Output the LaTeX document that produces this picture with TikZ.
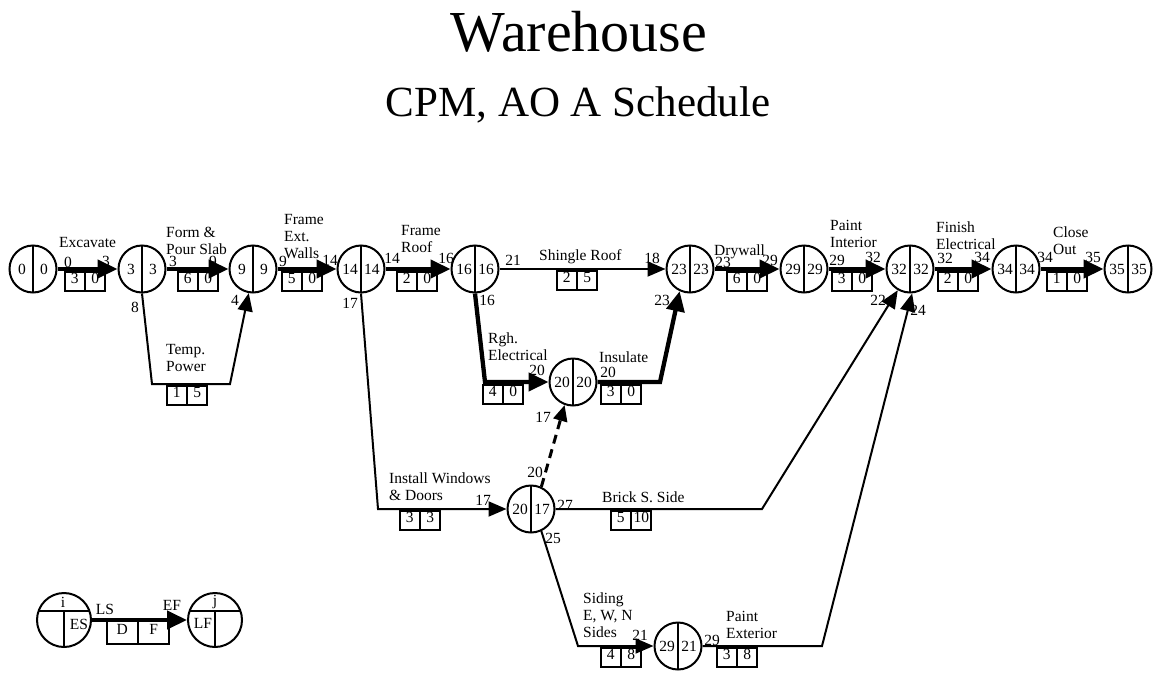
\documentclass[tikz,border=0pt]{standalone}
\usepackage{fontspec}
\setmainfont{Liberation Serif}
\usetikzlibrary{arrows.meta,shapes.multipart}

% early start | late start inside an event circle
\newcommand{\lr}[2]{\makebox[22pt]{#1}\makebox[22pt]{#2}}
% duration | float under an activity
\newcommand{\dur}[2]{\makebox[11pt]{\rule[-6pt]{0pt}{17pt}#1}\nodepart{two}\makebox[11pt]{\rule[-6pt]{0pt}{17pt}#2}}

\begin{document}
\begin{tikzpicture}[
    x=1pt, y=-1pt, font=\fontsize{15.5}{17}\selectfont,
    event/.style={circle, draw, line width=2pt, minimum size=47pt, inner sep=0pt,
      path picture={\draw[line width=2pt] (path picture bounding box.north)
        -- (path picture bounding box.south);}},
    keyevent/.style={circle, draw, line width=2pt, minimum size=54pt, inner sep=0pt,
      path picture={\draw[line width=2pt]
        ([yshift=-18pt]path picture bounding box.north west)
        -- ([yshift=-18pt]path picture bounding box.north east);
        \draw[line width=2pt] ([yshift=-18pt]path picture bounding box.north)
        -- (path picture bounding box.south);}},
    durbox/.style={rectangle split, rectangle split horizontal,
      rectangle split parts=2, draw, line width=1.6pt,
      inner xsep=4pt, inner ysep=1pt, anchor=north},
    crit/.style={line width=4.3pt, -{Triangle[length=20pt,width=18pt]}},
    act/.style={line width=2pt, -{Triangle[length=18pt,width=15pt]}},
    dummy/.style={line width=3pt, dash pattern=on 9pt off 6pt,
      -{Triangle[length=16pt,width=14pt]}},
    actname/.style={anchor=north west, align=left, inner sep=0pt},
    num/.style={inner sep=0pt}]

  \useasboundingbox (0,0) rectangle (1159,672);

  % title
  \node (title) at (579,32) {\fontsize{58}{64}\selectfont Warehouse};
  \node (subtitle) at (578,105) {\fontsize{43}{48}\selectfont CPM, AO A Schedule};

  % events
  \node[event] (n0)  at (33,269)   {\lr{0}{0}};
  \node[event] (n3)  at (142,269)  {\lr{3}{3}};
  \node[event] (n9)  at (253,269)  {\lr{9}{9}};
  \node[event] (n14) at (361,269)  {\lr{14}{14}};
  \node[event] (n16) at (475,269)  {\lr{16}{16}};
  \node[event] (n23) at (690,269)  {\lr{23}{23}};
  \node[event] (n29) at (804,269)  {\lr{29}{29}};
  \node[event] (n32) at (910,269)  {\lr{32}{32}};
  \node[event] (n34) at (1016,269) {\lr{34}{34}};
  \node[event] (n35) at (1128,269) {\lr{35}{35}};
  \node[event] (n20) at (573,382)  {\lr{20}{20}};
  \node[event] (n17) at (531,509)  {\lr{20}{17}};
  \node[event] (n21) at (678,646)  {\lr{29}{21}};

  % bends of the activity arrows
  \coordinate (tp1) at (152,384);
  \coordinate (tp2) at (230,384);
  \coordinate (iw)  at (378,509);
  \coordinate (re)  at (485,382);
  \coordinate (ins) at (660,382);
  \coordinate (bs)  at (762,509);
  \coordinate (sd)  at (578,646);
  \coordinate (pe)  at (822,646);

  % start and finish times at the arrow ends
  \node[num] at (68,262)   {0};
  \node[num] at (106,261)  {3};
  \node[num] at (173,261)  {3};
  \node[num] at (213,261)  {9};
  \node[num] at (135,307)  {8};
  \node[num] at (235,300)  {4};
  \node[num] at (283,261)  {9};
  \node[num] at (330,260)  {14};
  \node[num] at (392,258)  {14};
  \node[num] at (446,258)  {16};
  \node[num] at (350,303)  {17};
  \node[num] at (513,260)  {21};
  \node[num] at (652,258)  {18};
  \node[num] at (487,300)  {16};
  \node[num] at (537,370)  {20};
  \node[num] at (608,372)  {20};
  \node[num] at (662,300)  {23};
  \node[num] at (543,417)  {17};
  \node[num] at (535,472)  {20};
  \node[num] at (483,500)  {17};
  \node[num] at (565,505)  {27};
  \node[num] at (553,538)  {25};
  \node[num] at (878,300)  {22};
  \node[num] at (918,310)  {24};
  \node[num] at (640,635)  {21};
  \node[num] at (712,640)  {29};
  \node[num] at (723,262)  {23};
  \node[num] at (770,260)  {29};
  \node[num] at (837,260)  {29};
  \node[num] at (873,257)  {32};
  \node[num] at (945,258)  {32};
  \node[num] at (982,257)  {34};
  \node[num] at (1045,257) {34};
  \node[num] at (1093,257) {35};

  % activities
  \draw[crit] (n0) -- (n3);
  \draw[crit] (n3) -- (n9);
  \draw[act]  (n3.-90) -- (tp1) -- (tp2) -- (n9.-100);
  \draw[crit] (n9) -- (n14);
  \draw[crit] (n14) -- (n16);
  \draw[act]  (n14.-90) -- (iw) -- (n17.west);
  \draw[act]  (n16) -- (n23);
  \draw[crit] (n16.-90) -- (re) -- (n20.west);
  \draw[crit] (n20.east) -- (ins) -- (n23.-115);
  \draw[dummy] (n17.65) -- (n20.-110);
  \draw[act]  (n17.east) -- (bs) -- (n32.-120);
  \draw[act]  (n17.-65) -- (sd) -- (n21.west);
  \draw[act]  (n21.east) -- (pe) -- (n32.-85);
  \draw[crit] (n23) -- (n29);
  \draw[crit] (n29) -- (n32);
  \draw[crit] (n32) -- (n34);
  \draw[crit] (n34) -- (n35);

  % duration and float
  \node[durbox] (dExc)  at (85,271)   {\dur{3}{0}};
  \node[durbox] (dForm) at (198,271)  {\dur{6}{0}};
  \node[durbox] (dTemp) at (187,385)  {\dur{1}{5}};
  \node[durbox] (dWall) at (302,271)  {\dur{5}{0}};
  \node[durbox] (dRoof) at (417,271)  {\dur{2}{0}};
  \node[durbox] (dShin) at (577,270)  {\dur{2}{5}};
  \node[durbox] (dRgh)  at (503,384)  {\dur{4}{0}};
  \node[durbox] (dIns)  at (621,384)  {\dur{3}{0}};
  \node[durbox] (dWin)  at (420,510)  {\dur{3}{3}};
  \node[durbox] (dBri)  at (631,510)  {\dur{5}{10}};
  \node[durbox] (dSid)  at (621,647)  {\dur{4}{8}};
  \node[durbox] (dPEx)  at (737,647)  {\dur{3}{8}};
  \node[durbox] (dDry)  at (747,271)  {\dur{6}{0}};
  \node[durbox] (dPIn)  at (852,271)  {\dur{3}{0}};
  \node[durbox] (dFin)  at (958,271)  {\dur{2}{0}};
  \node[durbox] (dClo)  at (1067,271) {\dur{1}{0}};

  % activity names
  \node[actname] at (59,237.5)   {Excavate};
  \node[actname] at (166,226.5)  {Form \&\\Pour Slab};
  \node[actname] at (166,344.5)  {Temp.\\Power};
  \node[actname] at (284,214.5)  {Frame\\Ext.\\Walls};
  \node[actname] at (401,225.5)  {Frame\\Roof};
  \node[actname] at (539,249.5)  {Shingle Roof};
  \node[actname] at (488,332.5)  {Rgh.\\Electrical};
  \node[actname] at (599,351.5)  {Insulate};
  \node[actname] at (389,472.5)  {Install Windows\\\& Doors};
  \node[actname] at (602,491.5)  {Brick S. Side};
  \node[actname] at (583,592.5)  {Siding\\E, W, N\\Sides};
  \node[actname] at (726,611.5)  {Paint\\Exterior};
  \node[actname] at (714,244.5)  {Drywall};
  \node[actname] at (830,220.5)  {Paint\\Interior};
  \node[actname] at (936,221.5)  {Finish\\Electrical};
  \node[actname] at (1053,226.5) {Close\\Out};

  % key
  \node[keyevent] (ki) at (64,620)  {};
  \node[keyevent] (kj) at (215,620) {};
  \node[num] at (63,602)  {i};
  \node[num] at (79,624)  {ES};
  \node[num] at (215,602) {j};
  \node[num] at (203,623) {LF};
  \node[num] at (105,609) {LS};
  \node[num] at (172,605) {EF};
  \draw[crit] (ki) -- (kj);
  \node[durbox, inner xsep=9.5pt, inner ysep=3.5pt] (kbox) at (138,619) {\dur{D}{F}};
\end{tikzpicture}
\end{document}
